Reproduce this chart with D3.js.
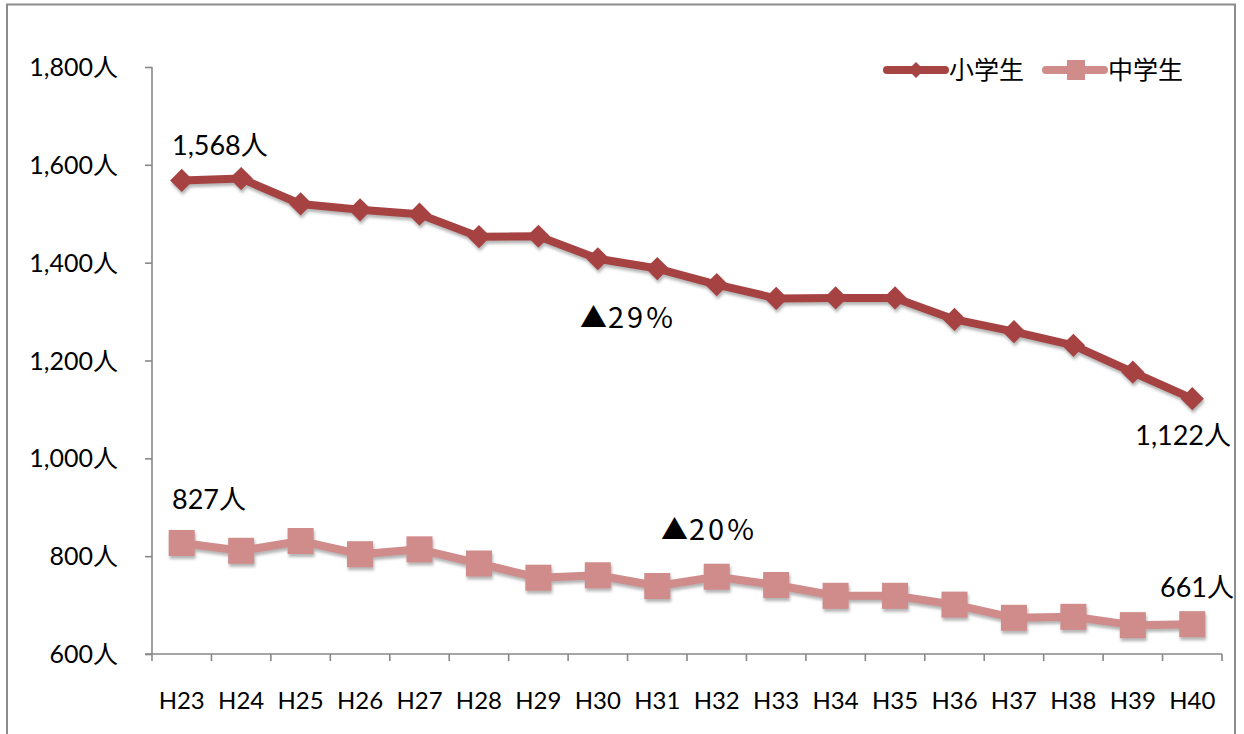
<!DOCTYPE html>
<html><head><meta charset="utf-8">
<script src="https://cdn.jsdelivr.net/npm/d3@7/dist/d3.min.js"></script>
<style>
html,body{margin:0;padding:0;background:#fff;}
text{font-family:Lato,"Noto Sans CJK JP",sans-serif;fill:#000;}
</style></head>
<body><svg id="chart" width="1244" height="734"></svg>
<script>
// Years (Heisei) on the horizontal axis
const categories = ["H23","H24","H25","H26","H27","H28","H29","H30","H31","H32","H33","H34","H35","H36","H37","H38","H39","H40"];
// Elementary school pupils
const elementary = [1568,1572,1520,1508,1499,1453,1454,1408,1388,1355,1327,1328,1328,1284,1259,1231,1176,1122];
// Junior high school pupils
const juniorHigh = [827,811,831,804,814,785,756,761,739,758,741,719,719,701,674,676,659,661];
const yTicks = [600,800,1000,1200,1400,1600,1800];
const seriesNames = ["小学生","中学生"];
const changeMarks = ["▲","▲"];
const changeValues = ["29%","20%"];

const svg = d3.select("#chart");
const plotLeft = 152, plotRight = 1222, plotTop = 67, plotBottom = 654;
const colors = ["#A64343","#D08B8B"];

// drop shadow under the lines and markers
const defs = svg.append("defs");
const f = defs.append("filter").attr("id","shadow").attr("x","-20%").attr("y","-20%").attr("width","140%").attr("height","160%");
f.append("feDropShadow").attr("dx",1).attr("dy",3).attr("stdDeviation",1.6)
  .attr("flood-color","#777").attr("flood-opacity",0.55);

// outer frame
svg.append("rect").attr("x",7).attr("y",4.5).attr("width",1228).attr("height",740)
  .attr("fill","none").attr("stroke","#8c8c8c").attr("stroke-width",2);

const x = d3.scaleBand().domain(categories).range([plotLeft,plotRight]);
const cx = d => x(d) + x.bandwidth()/2;
const y = d3.scaleLinear().domain([600,1800]).range([plotBottom,plotTop]);

// y axis
const yAxis = svg.append("g").attr("transform",`translate(${plotLeft},0)`)
  .call(d3.axisLeft(y).tickValues(yTicks).tickSize(7).tickPadding(27)
    .tickFormat(d => d3.format(",")(d) + "人"));
yAxis.selectAll("path,line").attr("stroke","#888").attr("stroke-width",1.6);
yAxis.select(".domain").attr("d",`M0,${plotTop}V${plotBottom}`);
yAxis.selectAll("text").attr("font-size",25).attr("fill","#000").attr("dy","0.34em");

// x axis with ticks at category boundaries
const xg = svg.append("g");
xg.append("line").attr("x1",plotLeft-7).attr("x2",plotRight).attr("y1",plotBottom).attr("y2",plotBottom)
  .attr("stroke","#888").attr("stroke-width",1.6);
const bounds = categories.map(c => x(c)).concat([plotRight]);
xg.selectAll("line.tk").data(bounds).join("line").attr("class","tk")
  .attr("x1",d=>d).attr("x2",d=>d).attr("y1",plotBottom).attr("y2",plotBottom+7)
  .attr("stroke","#888").attr("stroke-width",1.6);
xg.selectAll("text").data(categories).join("text")
  .attr("x",d=>cx(d)).attr("y",709).attr("text-anchor","middle")
  .attr("font-size",24).text(d=>d);

const line = d3.line().x((d,i)=>cx(categories[i])).y(d=>y(d));

function drawSeries(vals, color, kind){
  const g = svg.append("g").attr("filter","url(#shadow)");
  g.append("path").datum(vals).attr("d",line).attr("fill","none")
    .attr("stroke",color).attr("stroke-width",8).attr("stroke-linejoin","round");
  if(kind==="diamond"){
    g.selectAll("path.m").data(vals).join("path").attr("class","m")
      .attr("transform",(d,i)=>`translate(${cx(categories[i])},${y(d)})rotate(45)`)
      .attr("d",d3.symbol().type(d3.symbolSquare).size(270)).attr("fill",color);
  } else {
    g.selectAll("rect.m").data(vals).join("rect").attr("class","m")
      .attr("x",(d,i)=>cx(categories[i])-13).attr("y",d=>y(d)-13)
      .attr("width",26).attr("height",26).attr("fill",color);
  }
}
drawSeries(elementary, colors[0], "diamond");
drawSeries(juniorHigh, colors[1], "square");

// endpoint value labels
const fmt = d => d3.format(",")(d) + "人";
const n = categories.length - 1;
svg.append("text").attr("x",172).attr("y",155).attr("font-size",27).text(fmt(elementary[0]));
svg.append("text").attr("x",1231).attr("y",445).attr("text-anchor","end").attr("font-size",27).text(fmt(elementary[n]));
svg.append("text").attr("x",172).attr("y",509).attr("font-size",27).text(fmt(juniorHigh[0]));
svg.append("text").attr("x",1234).attr("y",597).attr("text-anchor","end").attr("font-size",27).text(fmt(juniorHigh[n]));

// rate of decrease
function rate(px, py, mark, val){
  const t = svg.append("text").attr("x",px).attr("y",py)
    .style("font-family","'Noto Sans CJK JP'");
  t.append("tspan").attr("font-size",27).text(mark);
  t.append("tspan").attr("dx",1).attr("font-size",29).style("letter-spacing","3px").text(val);
}
rate(580, 328, changeMarks[0], changeValues[0]);
rate(661, 540, changeMarks[1], changeValues[1]);

// legend
const legend = svg.append("g");
const lx = [887,1046];
seriesNames.forEach((name,i)=>{
  const g = legend.append("g");
  g.append("line").attr("x1",lx[i]).attr("x2",lx[i]+58).attr("y1",70).attr("y2",70)
    .attr("stroke",colors[i]).attr("stroke-width",8).attr("stroke-linecap","round");
  if(i===0){
    g.append("path").attr("transform",`translate(${lx[i]+29},70)rotate(45)`)
      .attr("d",d3.symbol().type(d3.symbolSquare).size(130)).attr("fill",colors[i]);
  } else {
    g.append("rect").attr("x",lx[i]+21).attr("y",60).attr("width",18).attr("height",20).attr("fill",colors[i]);
  }
  g.append("text").attr("x",lx[i]+62).attr("y",79).attr("font-size",25)
    .style("font-family","'Noto Sans CJK JP'").text(name);
});
</script></body></html>
